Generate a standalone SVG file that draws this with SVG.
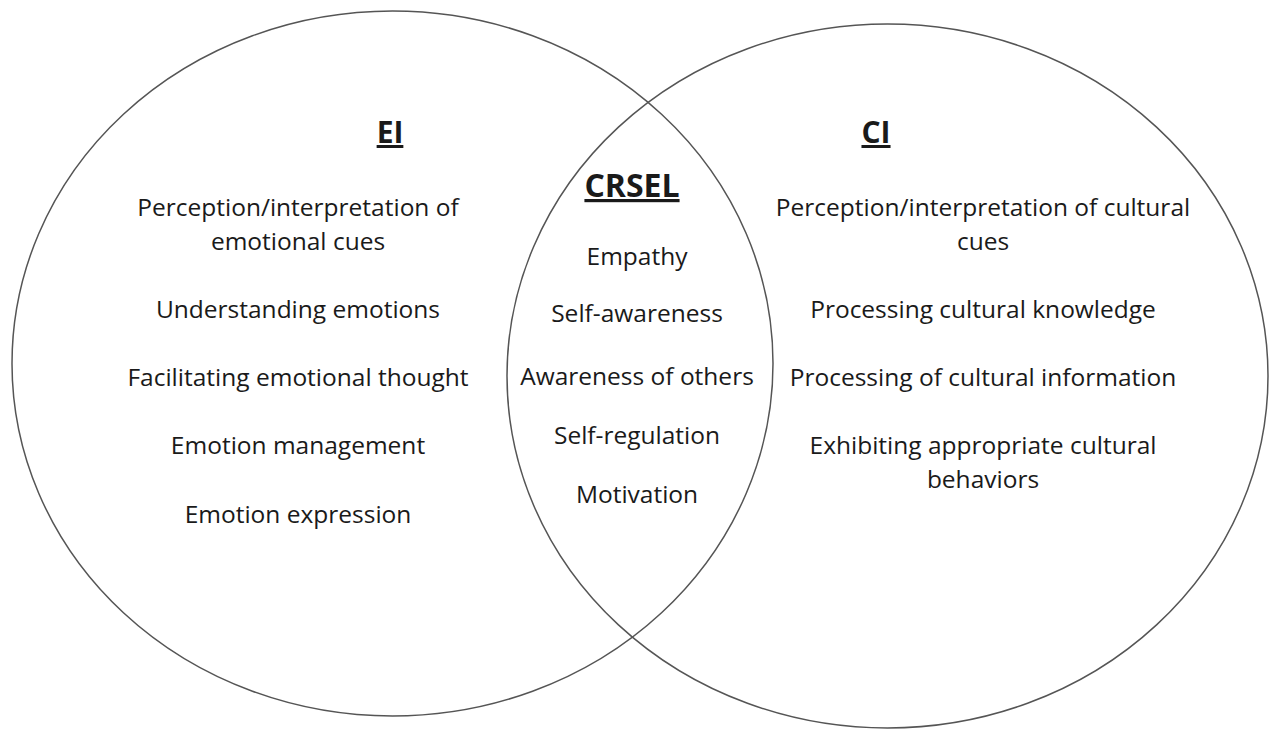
<svg xmlns="http://www.w3.org/2000/svg" width="1278" height="730" viewBox="0 0 1278 730">
  <style>
    .ring { fill: none; stroke: #555; stroke-width: 1.5; }
    .item { font-family: "Open Sans", "Liberation Sans", sans-serif; font-size: 24.5px; fill: #1a1a1a; text-anchor: middle; }
    .head { font-family: "Open Sans", "Liberation Sans", sans-serif; font-weight: bold; fill: #1a1a1a; text-anchor: middle; text-decoration: underline; }
  </style>
  <rect width="1278" height="730" fill="#fff"/>

  <!-- Emotional intelligence -->
  <g id="ei">
    <ellipse class="ring" cx="392.5" cy="363.5" rx="380.5" ry="352.5"/>
    <text class="head" x="390" y="143" font-size="30">EI</text>
    <text class="item" x="298" y="216">Perception/interpretation of</text>
    <text class="item" x="298" y="250">emotional cues</text>
    <text class="item" x="298" y="318">Understanding emotions</text>
    <text class="item" x="298" y="386">Facilitating emotional thought</text>
    <text class="item" x="298" y="454">Emotion management</text>
    <text class="item" x="298" y="523">Emotion expression</text>
  </g>

  <!-- Cultural intelligence -->
  <g id="ci">
    <ellipse class="ring" cx="887.5" cy="376" rx="380.5" ry="352"/>
    <text class="head" x="876" y="143" font-size="30">CI</text>
    <text class="item" x="983" y="216">Perception/interpretation of cultural</text>
    <text class="item" x="983" y="250">cues</text>
    <text class="item" x="983" y="318">Processing cultural knowledge</text>
    <text class="item" x="983" y="386">Processing of cultural information</text>
    <text class="item" x="983" y="454">Exhibiting appropriate cultural</text>
    <text class="item" x="983" y="488">behaviors</text>
  </g>

  <!-- Overlap: culturally responsive SEL -->
  <g id="crsel">
    <text class="head" x="632" y="197" font-size="32">CRSEL</text>
    <text class="item" x="637" y="265">Empathy</text>
    <text class="item" x="637" y="322">Self-awareness</text>
    <text class="item" x="637" y="385">Awareness of others</text>
    <text class="item" x="637" y="444">Self-regulation</text>
    <text class="item" x="637" y="503">Motivation</text>
  </g>

  <g id="connectors"/>
</svg>
